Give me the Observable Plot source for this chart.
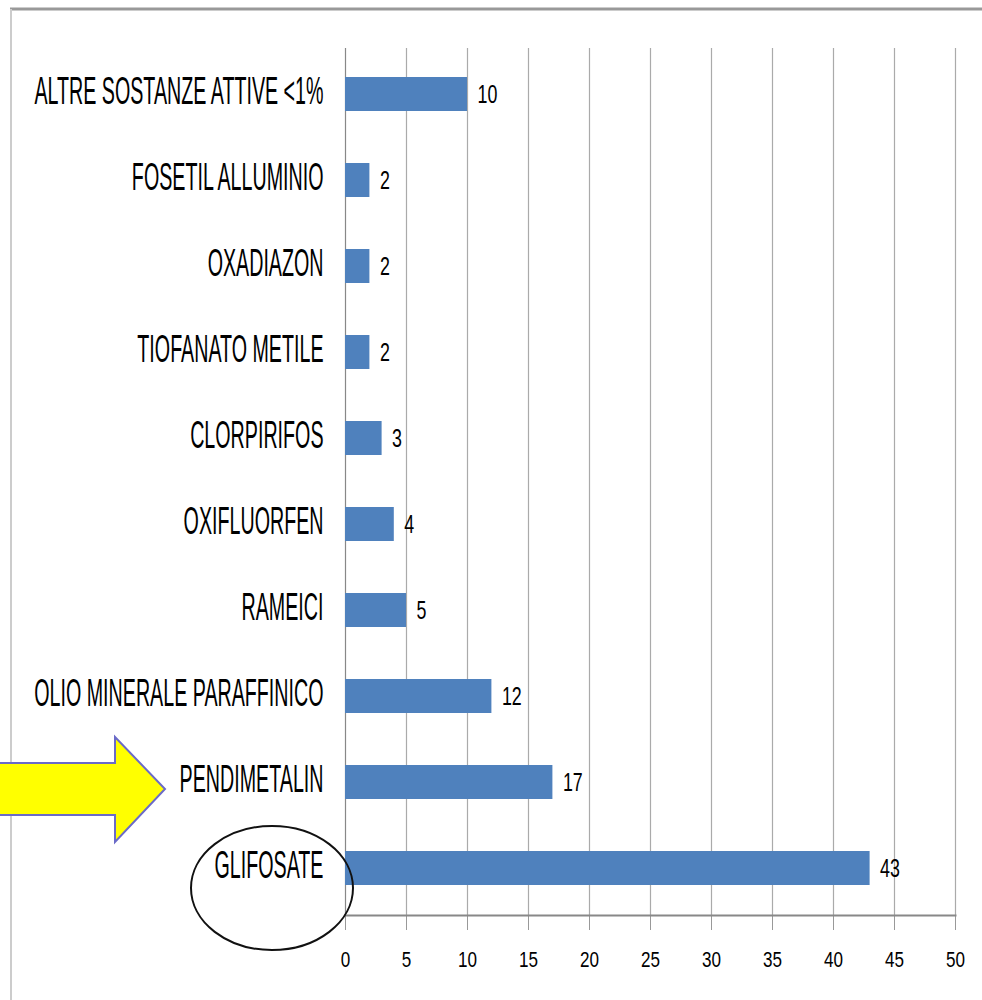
<!DOCTYPE html>
<html>
<head>
<meta charset="utf-8">
<script src="https://cdn.jsdelivr.net/npm/d3@7"></script>
<script src="https://cdn.jsdelivr.net/npm/@observablehq/plot@0.6"></script>
<style>
  html, body { margin: 0; padding: 0; background: #fff; }
  #chart { position: relative; width: 982px; height: 1000px; }
</style>
</head>
<body>
<div id="chart"></div>
<script>
const categories = [
  "ALTRE SOSTANZE ATTIVE <1%",
  "FOSETIL ALLUMINIO",
  "OXADIAZON",
  "TIOFANATO METILE",
  "CLORPIRIFOS",
  "OXIFLUORFEN",
  "RAMEICI",
  "OLIO MINERALE PARAFFINICO",
  "PENDIMETALIN",
  "GLIFOSATE"
];
const values = [10, 2, 2, 2, 3, 4, 5, 12, 17, 43];
const xTicks = [0, 5, 10, 15, 20, 25, 30, 35, 40, 45, 50];

const data = categories.map((c, i) => ({name: c, value: values[i]}));
const FONT = "'Liberation Sans', Arial, sans-serif";

const chart = Plot.plot({
  width: 982,
  height: 1000,
  marginLeft: 345,
  marginRight: 27,
  marginTop: 48,
  marginBottom: 85,
  style: {background: "#fff", color: "#999"},
  x: {domain: [0, 50], ticks: xTicks, tickSize: 15, tickFormat: () => "", label: null},
  y: {domain: categories, paddingInner: 0.6, paddingOuter: 0.3, axis: null, label: null},
  marks: [
    Plot.ruleX(xTicks, {stroke: d => d === 0 ? "#888" : "#aaa", strokeWidth: 1.2}),
    Plot.barX(data, {x: "value", y: "name", fill: "#4f81bd"}),
    Plot.frame({anchor: "bottom", stroke: "#888", strokeWidth: 2}),
    Plot.text(data, {y: "name", text: "name", frameAnchor: "left", dx: -22, dy: -3, textAnchor: "end",
      fill: "#000", fontFamily: FONT, fontSize: 24}),
    Plot.text(data, {x: "value", y: "name", text: d => String(d.value), dx: 10, textAnchor: "start",
      fill: "#000", fontFamily: FONT, fontSize: 21}),
    Plot.text(xTicks, {x: d => d, text: d => String(d), frameAnchor: "bottom", dy: 51,
      fill: "#000", fontFamily: FONT, fontSize: 19})
  ]
});

document.getElementById("chart").appendChild(chart);

// condensed, vertically stretched lettering as in the original picture
const textGroups = chart.querySelectorAll('g[aria-label="text"]');
function stretch(g, sx, sy) {
  if (!g) return;
  d3.select(g).selectAll("text").each(function() {
    const el = d3.select(this);
    let t = el.attr("transform");
    if (!t) {
      const x = +el.attr("x") || 0, y = +el.attr("y") || 0;
      el.attr("x", null).attr("y", null);
      t = `translate(${x},${y})`;
    }
    el.attr("transform", `${t} scale(${sx},${sy})`);
  });
}
stretch(textGroups[0], 0.82, 1.65);
stretch(textGroups[1], 0.85, 1.25);
stretch(textGroups[2], 0.9, 1.12);

// decorations: slide frame, arrow and ellipse annotations
const svg = d3.select(chart);
svg.append("line").attr("x1", 10).attr("x2", 982).attr("y1", 9).attr("y2", 9)
  .attr("stroke", "#999").attr("stroke-width", 3);
svg.append("line").attr("x1", 11).attr("x2", 11).attr("y1", 9).attr("y2", 1000)
  .attr("stroke", "#ccc").attr("stroke-width", 2);
svg.append("polygon")
  .attr("points", "-5,763 115,763 115,737 165,789 115,842 115,815 -5,815")
  .attr("fill", "#ffff00").attr("stroke", "#6a6ac8").attr("stroke-width", 2);
svg.append("ellipse").attr("cx", 272).attr("cy", 888).attr("rx", 81).attr("ry", 62)
  .attr("fill", "none").attr("stroke", "#111").attr("stroke-width", 2);
</script>
</body>
</html>
